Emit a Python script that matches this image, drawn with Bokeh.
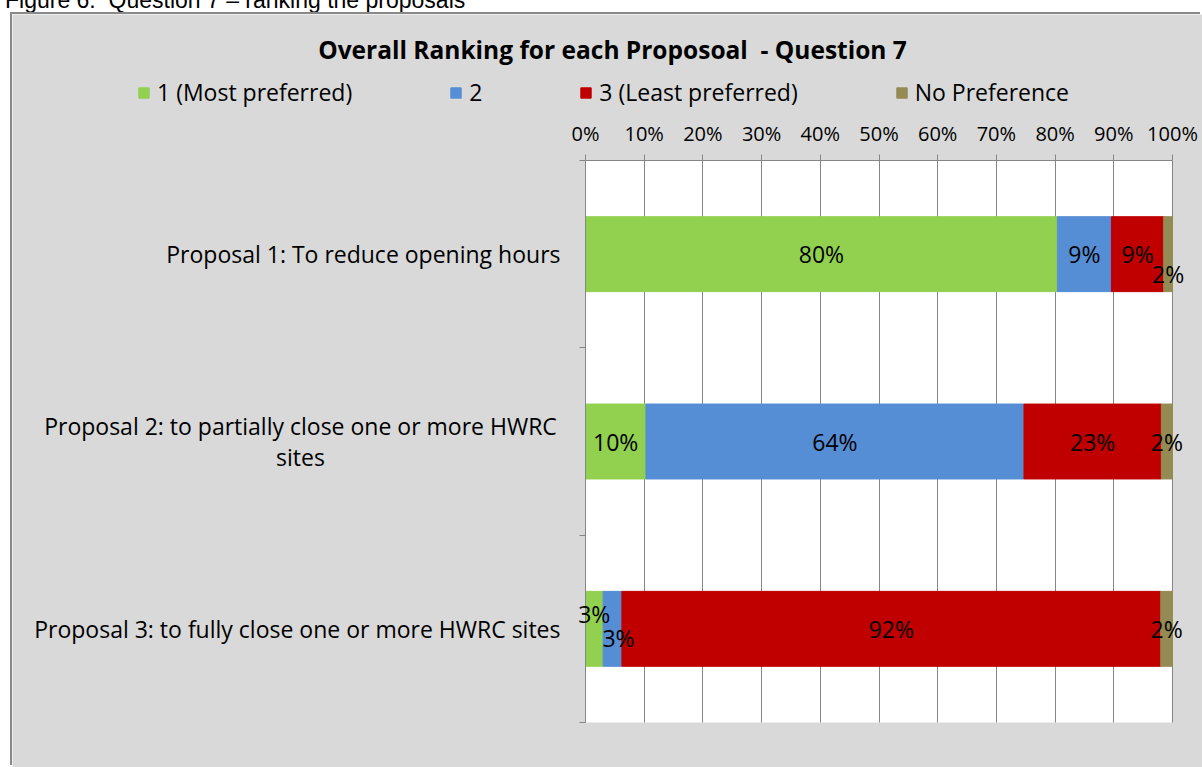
import textwrap
from bokeh.plotting import figure
from bokeh.models import (ColumnDataSource, LabelSet, Label, Legend, LegendItem, BoxAnnotation,
                          FixedTicker, NumeralTickFormatter, Range1d, Div)
from bokeh.core.properties import value
from bokeh.embed import file_html
from bokeh.resources import INLINE

# ---------------- data ----------------
caption = "Figure 6:  Question 7 \u2013 ranking the proposals"
title = "Overall Ranking for each Proposoal\u00a0 - Question 7"
categories = [
    "Proposal 1: To reduce opening hours",
    "Proposal 2: to partially close one or more HWRC sites",
    "Proposal 3: to fully close one or more HWRC sites",
]
series_names = ["1 (Most preferred)", "2", "3 (Least preferred)", "No Preference"]
most_preferred = [80.4, 10.3, 3.0]
second = [9.2, 64.4, 3.2]
least_preferred = [8.9, 23.4, 91.8]
no_preference = [1.5, 1.9, 2.0]
tick_values = [0, 10, 20, 30, 40, 50, 60, 70, 80, 90, 100]

# ---------------- style / layout ----------------
colors = ["#92D050", "#558ED5", "#C00000", "#948A54"]
FONT = "Open Sans"
GRID = "#868686"
W, H = 1190, 753            # canvas size
PLOT_L, PLOT_W = 573, 587   # 0 %..100 % in canvas px
PLOT_T, PLOT_H = 146, 562   # top..bottom of the category area in canvas px
# label nudges (px) for crowded small segments, like Excel's auto-placement
label_dx = {(2, 1): 6}
label_dy = {(0, 3): -20, (2, 0): 15, (2, 1): -9}

series = [most_preferred, second, least_preferred, no_preference]
keys = ["s0", "s1", "s2", "s3"]
n = len(categories)
ypos = [n - 0.5 - i for i in range(n)]
xmax = tick_values[-1] / 100
ppy = PLOT_H / n

x_range = Range1d(-PLOT_L / PLOT_W * xmax, (W - PLOT_L) / PLOT_W * xmax)
y_range = Range1d(-(H - PLOT_T - PLOT_H) / ppy, n + PLOT_T / ppy)

src = ColumnDataSource(dict(y=ypos, **{k: [v / 100 for v in s] for k, s in zip(keys, series)}))

p = figure(width=W, height=H, x_range=x_range, y_range=y_range,
           x_axis_location="above", output_backend="svg", toolbar_location=None,
           min_border=0, background_fill_color="#D9D9D9", border_fill_color="#D9D9D9",
           outline_line_color=None)
p.styles = {"position": "absolute", "left": "12px", "top": "14px",
            "box-shadow": "-2px -2px 0 0 #898989"}

# white plot area (0 - 100 %)
p.add_layout(BoxAnnotation(left=0, right=xmax, bottom=0, top=n,
                           fill_color="white", fill_alpha=1, line_color=None, level="image"))

renderers = p.hbar_stack(keys, y="y", height=0.4, color=colors, source=src)

# x axis (top of the plot area)
xt = FixedTicker(ticks=[t / 100 for t in tick_values])
p.xaxis.fixed_location = n
p.xaxis.ticker = xt
p.xaxis.bounds = (0, xmax)
p.xaxis.formatter = NumeralTickFormatter(format="0%")
p.xaxis.major_label_text_font = FONT
p.xaxis.major_label_text_font_size = "20px"
p.xaxis.major_label_text_color = "black"
p.xaxis.major_label_standoff = 8
p.xaxis.major_tick_out = 6
p.xaxis.major_tick_in = 0
p.xaxis.minor_tick_line_color = None
p.xaxis.axis_line_color = GRID
p.xaxis.major_tick_line_color = GRID

# y axis (left edge of the plot area): tick marks at category boundaries
p.yaxis.fixed_location = 0
p.yaxis.ticker = FixedTicker(ticks=[], minor_ticks=list(range(n + 1)))
p.yaxis.bounds = (0, n)
p.yaxis.major_tick_line_color = None
p.yaxis.minor_tick_out = 6
p.yaxis.minor_tick_in = 0
p.yaxis.minor_tick_line_color = GRID
p.yaxis.axis_line_color = GRID

p.xgrid.ticker = xt
p.xgrid.cross_bounds = (0, n)
p.xgrid.grid_line_color = GRID
p.ygrid.grid_line_color = None

# data labels
lx, ly, lt, ldx, ldy = [], [], [], [], []
for i in range(n):
    cum = 0.0
    for j, s in enumerate(series):
        v = s[i]
        lx.append((cum + v / 2) / 100)
        ly.append(ypos[i])
        lt.append(f"{round(v)}%")
        ldx.append(label_dx.get((i, j), 0))
        ldy.append(label_dy.get((i, j), 0))
        cum += v
lsrc = ColumnDataSource(dict(x=lx, y=ly, text=lt, dx=ldx, dy=ldy))
p.add_layout(LabelSet(x="x", y="y", text="text", x_offset="dx", y_offset="dy", source=lsrc,
                      text_align="center", text_baseline="middle", text_font=value(FONT),
                      text_font_size="23px", text_color="black"))

# category labels (wrapped like Excel: centred lines when wrapped)
cy, ct, cdx, cdy, calign = [], [], [], [], []
LINE = 31
for y, c in zip(ypos, categories):
    lines = textwrap.wrap(c, 50)
    k = len(lines)
    for m, line in enumerate(lines):
        cy.append(y)
        ct.append(line)
        cdx.append(-25 if k == 1 else -285)
        cdy.append(((k - 1) / 2 - m) * LINE)
        calign.append("right" if k == 1 else "center")
csrc = ColumnDataSource(dict(x=[0] * len(cy), y=cy, text=ct, dx=cdx, dy=cdy, align=calign))
p.add_layout(LabelSet(x="x", y="y", text="text", x_offset="dx", y_offset="dy", source=csrc,
                      text_align="align", text_baseline="middle", text_font=value(FONT),
                      text_font_size="23px", text_color="black"))

# title
p.add_layout(Label(x=0, y=n, x_offset=27, y_offset=111, text=title, text_align="center",
                   text_baseline="middle", text_font=FONT, text_font_size="24.5px",
                   text_font_style="bold", text_color="black"))

# legend
legend = Legend(items=[LegendItem(label=nm, renderers=[r]) for nm, r in zip(series_names, renderers)],
                location=(125, 659), orientation="horizontal", padding=0, margin=0, spacing=97,
                glyph_width=13, glyph_height=13, label_standoff=7, label_width=10,
                label_text_font=FONT, label_text_font_size="23px", label_text_color="black",
                border_line_color=None, background_fill_alpha=0)
p.add_layout(legend, "center")

cap = Div(text=caption, width=600, height=24,
          styles={"position": "absolute", "left": "0px", "top": "-16px",
                  "font-family": "'Liberation Sans', Arial, sans-serif", "font-size": "23px",
                  "line-height": "23px", "color": "black", "white-space": "pre"})

open("out.html", "w").write(file_html([cap, p], INLINE))
